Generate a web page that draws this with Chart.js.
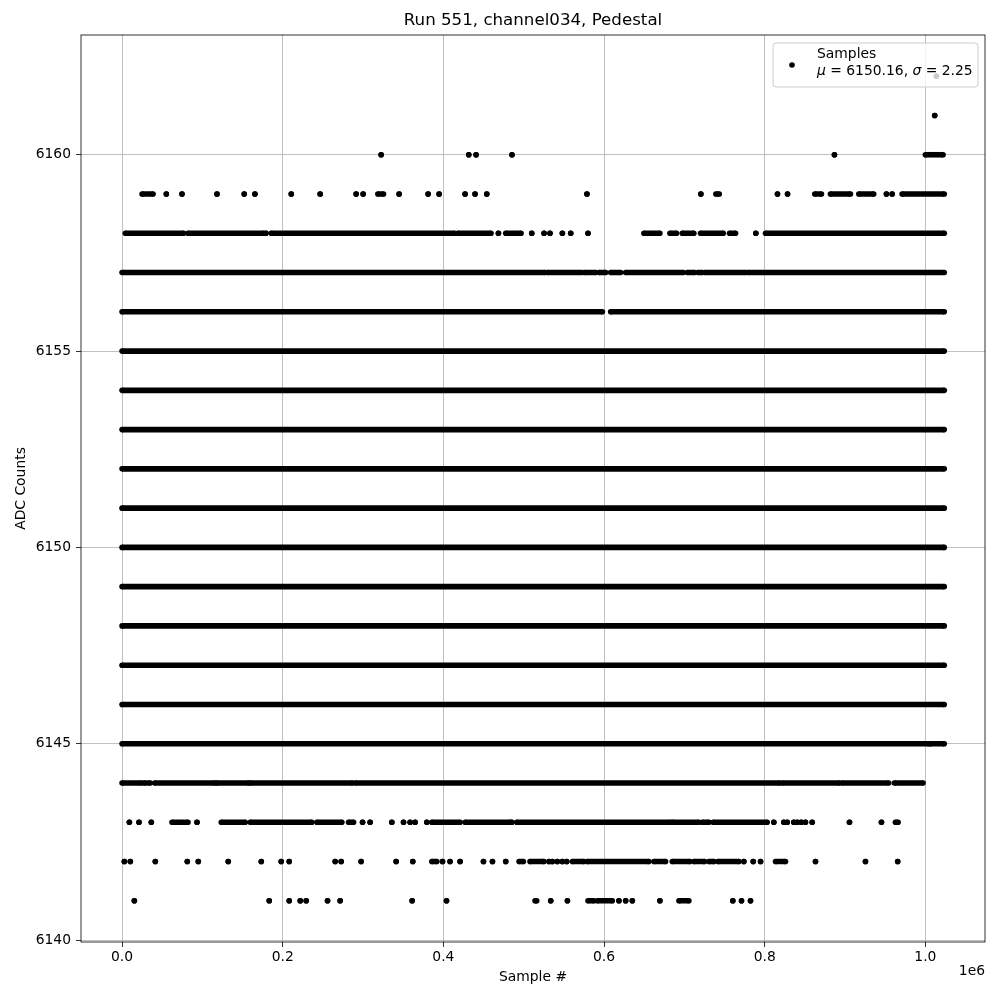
<!DOCTYPE html>
<html>
<head>
<meta charset="utf-8">
<script src="https://cdn.jsdelivr.net/npm/chart.js@4/dist/chart.umd.min.js"></script>
<style>
  html, body { margin: 0; padding: 0; background: #fff; }
  canvas { display: block; }
</style>
</head>
<body>
<canvas id="pedestal" width="1000" height="1000"></canvas>
<script>
// x values are in units of 1e6 samples; each row is a list of [start, end] runs of samples at that ADC count
var END = 1.0235;

var row6162 = [[1.0137, 1.0137]];
var row6161 = [[1.0116, 1.0116]];
var row6160 = [[0.3225, 0.3225], [0.4316, 0.4316], [0.4407, 0.4407], [0.4854, 0.4854], [0.8868, 0.8868], [1.0000, 1.0220]];
var row6159 = [[0.0249, 0.0386], [0.0551, 0.0551], [0.0746, 0.0746], [0.1182, 0.1182], [0.1521, 0.1521], [0.1654, 0.1654],
  [0.2106, 0.2106], [0.2466, 0.2466], [0.2914, 0.2914], [0.3001, 0.3001], [0.3184, 0.3255], [0.3449, 0.3449],
  [0.3810, 0.3810], [0.3947, 0.3947], [0.4270, 0.4270], [0.4394, 0.4394], [0.4540, 0.4540], [0.5787, 0.5787],
  [0.7205, 0.7205], [0.7392, 0.7434], [0.8159, 0.8159], [0.8284, 0.8284], [0.8623, 0.8706], [0.8818, 0.9067],
  [0.9171, 0.9357], [0.9515, 0.9515], [0.9586, 0.9586], [0.9710, END]];
var row6158 = [[0.0041, 0.0767], [0.0821, 0.1762], [0.1791, 0.1791], [0.1857, 0.4138], [0.4179, 0.4593], [0.4685, 0.4685],
  [0.4776, 0.4967], [0.5100, 0.5100], [0.5253, 0.5253], [0.5327, 0.5327], [0.5481, 0.5481], [0.5585, 0.5585],
  [0.5800, 0.5800], [0.6496, 0.6695], [0.6820, 0.6903], [0.6974, 0.7118], [0.7201, 0.7484], [0.7562, 0.7637],
  [0.7889, 0.7889], [0.8010, END]];
var row6157 = [[0, 0.5265], [0.5294, 0.5720], [0.5749, 0.5896], [0.5937, 0.6021], [0.6082, 0.6206], [0.6269, 0.6986],
  [0.7036, 0.7127], [0.7168, 0.7222], [0.7251, 0.7761], [0.7790, END]];
var row6156 = [[0, 0.5979], [0.6082, END]];
var fullRow = [[0, END]];
var row6145 = [[0, 1.0041], [1.0062, END]];
var row6144 = [[0, 0.0240], [0.0270, 0.0352], [0.0407, 0.1153], [0.1173, 0.1576], [0.1596, 0.2869], [0.2902, 0.8188],
  [0.8218, 0.8934], [0.8964, 0.9543], [0.9614, 0.9971]];
var row6143 = [[0.0091, 0.0091], [0.0211, 0.0211], [0.0364, 0.0364], [0.0622, 0.0821], [0.0933, 0.0933], [0.1235, 0.1534],
  [0.1596, 0.2363], [0.2425, 0.2736], [0.2820, 0.2882], [0.2994, 0.2994], [0.3088, 0.3088], [0.3358, 0.3358],
  [0.3504, 0.3504], [0.3586, 0.3586], [0.3648, 0.3648], [0.3794, 0.3794], [0.3856, 0.4208], [0.4270, 0.4830],
  [0.4851, 0.4851], [0.4913, 0.6828], [0.6849, 0.7180], [0.7223, 0.7305], [0.7359, 0.8031], [0.8113, 0.8113],
  [0.8238, 0.8238], [0.8280, 0.8280], [0.8362, 0.8362], [0.8404, 0.8404], [0.8454, 0.8454], [0.8507, 0.8507],
  [0.8591, 0.8591], [0.9055, 0.9055], [0.9453, 0.9453], [0.9627, 0.9660]];
var row6142 = [[0.0029, 0.0029], [0.0103, 0.0103], [0.0414, 0.0414], [0.0812, 0.0812], [0.0949, 0.0949], [0.1322, 0.1322],
  [0.1733, 0.1733], [0.1981, 0.1981], [0.2081, 0.2081], [0.2653, 0.2653], [0.2728, 0.2728], [0.2976, 0.2976],
  [0.3412, 0.3412], [0.3619, 0.3619], [0.3856, 0.3918], [0.3989, 0.3989], [0.4083, 0.4083], [0.4208, 0.4208],
  [0.4499, 0.4499], [0.4611, 0.4611], [0.4776, 0.4776], [0.4942, 0.4996], [0.5078, 0.5252], [0.5315, 0.5315],
  [0.5357, 0.5357], [0.5419, 0.5419], [0.5481, 0.5481], [0.5535, 0.5535], [0.5606, 0.5750], [0.5792, 0.6558],
  [0.6621, 0.6766], [0.6849, 0.7068], [0.7118, 0.7251], [0.7305, 0.7367], [0.7417, 0.7678], [0.7740, 0.7740],
  [0.7857, 0.7857], [0.7948, 0.7948], [0.8134, 0.8259], [0.8632, 0.8632], [0.9254, 0.9254], [0.9655, 0.9655]];
var row6141 = [[0.0153, 0.0153], [0.1832, 0.1832], [0.2081, 0.2081], [0.2218, 0.2218], [0.2292, 0.2292], [0.2558, 0.2558],
  [0.2715, 0.2715], [0.3611, 0.3611], [0.4039, 0.4039], [0.5141, 0.5162], [0.5336, 0.5336], [0.5544, 0.5544],
  [0.5800, 0.5874], [0.5917, 0.6103], [0.6185, 0.6185], [0.6269, 0.6269], [0.6352, 0.6352], [0.6695, 0.6695],
  [0.6932, 0.7056], [0.7603, 0.7603], [0.7711, 0.7711], [0.7823, 0.7823]];

var levels = [6141, 6142, 6143, 6144, 6145, 6146, 6147, 6148, 6149, 6150, 6151,
  6152, 6153, 6154, 6155, 6156, 6157, 6158, 6159, 6160, 6161, 6162];
var rows = [row6141, row6142, row6143, row6144, row6145, fullRow, fullRow, fullRow, fullRow, fullRow, fullRow,
  fullRow, fullRow, fullRow, fullRow, row6156, row6157, row6158, row6159, row6160, row6161, row6162];

var xTicks = [0, 0.2, 0.4, 0.6, 0.8, 1.0];
var yTicks = [6140, 6145, 6150, 6155, 6160];

var FONT = 'DejaVu Sans';

var datasets = [];
for (let i = 0; i < levels.length; i++) {
  var pts = [];
  rows[i].forEach(function(s) {
    pts.push({x: s[0], y: levels[i]});
    pts.push({x: s[1], y: levels[i]});
    pts.push({x: s[1], y: null});
  });
  datasets.push({
    label: 'Samples',
    data: pts,
    borderColor: '#000',
    backgroundColor: '#000',
    borderWidth: 5.6,
    borderCapStyle: 'butt',
    pointRadius: 2.8,
    pointBorderWidth: 0,
    pointBackgroundColor: '#000',
    spanGaps: false,
    fill: false,
    tension: 0
  });
}

var extras = {
  id: 'extras',
  afterDraw: function(chart) {
    var ctx = chart.ctx;
    var a = chart.chartArea;
    ctx.save();
    // spines
    ctx.strokeStyle = '#000';
    ctx.lineWidth = 0.8;
    ctx.strokeRect(a.left, a.top, a.right - a.left, a.bottom - a.top);

    // legend box
    var bx = 773, by = 43, bw = 205, bh = 44, r = 3;
    ctx.beginPath();
    ctx.moveTo(bx + r, by);
    ctx.arcTo(bx + bw, by, bx + bw, by + bh, r);
    ctx.arcTo(bx + bw, by + bh, bx, by + bh, r);
    ctx.arcTo(bx, by + bh, bx, by, r);
    ctx.arcTo(bx, by, bx + bw, by, r);
    ctx.closePath();
    ctx.fillStyle = 'rgba(255,255,255,0.8)';
    ctx.fill();
    ctx.strokeStyle = '#cccccc';
    ctx.lineWidth = 1;
    ctx.stroke();

    ctx.fillStyle = '#000';
    ctx.beginPath();
    ctx.arc(792, 65, 2.8, 0, Math.PI * 2);
    ctx.fill();

    ctx.textBaseline = 'middle';
    ctx.textAlign = 'left';
    ctx.font = '13.89px ' + FONT;
    ctx.fillText('Samples', 817, 54);
    var parts = [['μ', true], [' = 6150.16, ', false], ['σ', true], [' = 2.25', false]];
    var tx = 817;
    parts.forEach(function(p) {
      ctx.font = (p[1] ? 'italic ' : '') + '13.89px ' + FONT;
      ctx.fillText(p[0], tx, 71);
      tx += ctx.measureText(p[0]).width;
    });

    // titles
    ctx.textAlign = 'center';
    ctx.font = '16.67px ' + FONT;
    ctx.fillText('Run 551, channel034, Pedestal', (a.left + a.right) / 2, 21);
    ctx.font = '13.89px ' + FONT;
    ctx.fillText('Sample #', (a.left + a.right) / 2, 977);
    ctx.textAlign = 'right';
    ctx.fillText('1e6', a.right, 971);
    ctx.translate(21, (a.top + a.bottom) / 2);
    ctx.rotate(-Math.PI / 2);
    ctx.textAlign = 'center';
    ctx.fillText('ADC Counts', 0, 0);
    ctx.restore();
  }
};

new Chart(document.getElementById('pedestal'), {
  type: 'line',
  data: { datasets: datasets },
  options: {
    responsive: false,
    animation: false,
    devicePixelRatio: 1,
    events: [],
    layout: { padding: { left: 0, right: 15, top: 35, bottom: 0 } },
    scales: {
      x: {
        type: 'linear',
        min: -0.0511,
        max: 1.0742,
        afterFit: function(s) { s.height = 58; },
        afterBuildTicks: function(s) { s.ticks = xTicks.map(function(v) { return {value: v}; }); },
        ticks: {
          color: '#000',
          font: { family: FONT, size: 13.89 },
          padding: 2,
          maxRotation: 0,
          autoSkip: false,
          callback: function(v) { return v.toFixed(1); }
        },
        grid: { color: '#b0b0b0', lineWidth: 0.8, tickLength: 5, tickColor: '#000', tickWidth: 0.8 },
        border: { display: false }
      },
      y: {
        type: 'linear',
        min: 6139.95,
        max: 6163.05,
        afterFit: function(s) { s.width = 81; },
        afterBuildTicks: function(s) { s.ticks = yTicks.map(function(v) { return {value: v}; }); },
        ticks: {
          color: '#000',
          font: { family: FONT, size: 13.89 },
          padding: 5,
          autoSkip: false,
          callback: function(v) { return String(v); }
        },
        grid: { color: '#b0b0b0', lineWidth: 0.8, tickLength: 5, tickColor: '#000', tickWidth: 0.8 },
        border: { display: false }
      }
    },
    plugins: {
      legend: { display: false },
      tooltip: { enabled: false },
      title: { display: false }
    }
  },
  plugins: [extras]
});
</script>
</body>
</html>
